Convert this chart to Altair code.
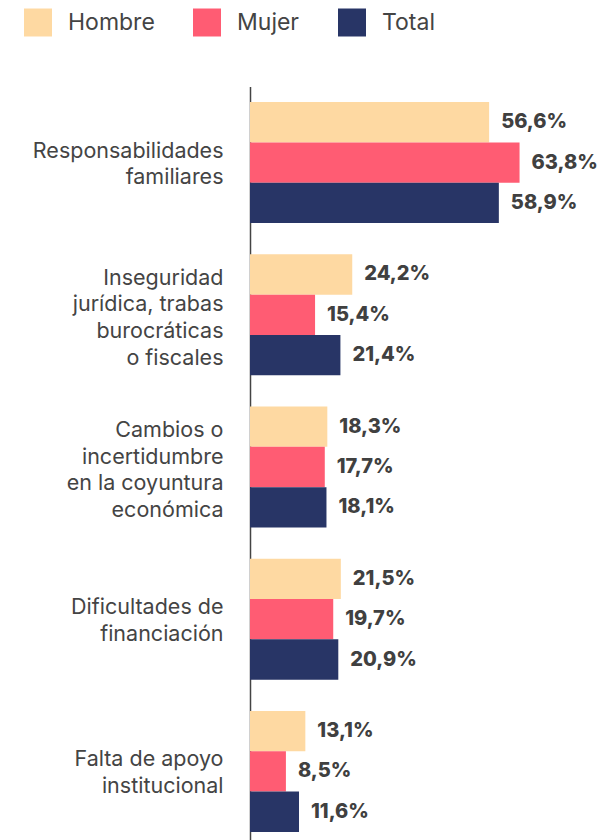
import altair as alt
import pandas as pd

categories = [
    "Responsabilidades|familiares",
    "Inseguridad|jurídica, trabas|burocráticas|o fiscales",
    "Cambios o|incertidumbre|en la coyuntura|económica",
    "Dificultades de|financiación",
    "Falta de apoyo|institucional",
]
series = ["Hombre", "Mujer", "Total"]
hombre = [56.6, 24.2, 18.3, 21.5, 13.1]
mujer = [63.8, 15.4, 17.7, 19.7, 8.5]
total = [58.9, 21.4, 18.1, 20.9, 11.6]
colors = ["#FED9A2", "#FF5C73", "#283566"]

rows = []
for i, c in enumerate(categories):
    for s, vals in zip(series, [hombre, mujer, total]):
        rows.append({"cat": c, "serie": s, "value": vals[i]})
df = pd.DataFrame(rows)

base = alt.Chart(df).transform_calculate(
    label="replace(format(datum.value, '.1f'), '.', ',') + '%'"
).encode(
    y=alt.Y(
        "cat:N",
        sort=categories,
        scale=alt.Scale(paddingInner=0.205, paddingOuter=0.1025),
        axis=alt.Axis(
            title=None,
            labelExpr="split(datum.label, '|')",
            labelFont="Inter",
            labelFontSize=21.5,
            labelColor="#444444",
            labelLineHeight=26.7,
            labelAlign="right",
            labelPadding=27,
            labelLimit=240,
            labelOffset={
                "condition": {"test": "length(split(datum.value, '|')) > 2", "value": -36},
                "value": -11,
            },
            ticks=False,
            domainColor="#444444",
            domainWidth=1.5,
            grid=False,
        ),
    ),
    yOffset=alt.YOffset("serie:N", sort=series, scale=alt.Scale(paddingInner=0, paddingOuter=0)),
    x=alt.X("value:Q", scale=alt.Scale(domain=[0, 80]), axis=None),
)

bars = base.mark_bar().encode(
    color=alt.Color(
        "serie:N",
        sort=series,
        scale=alt.Scale(domain=series, range=colors),
        legend=alt.Legend(
            orient="none",
            legendX=-226,
            legendY=-78,
            direction="horizontal",
            title=None,
            symbolType="square",
            symbolSize=784,
            symbolStrokeWidth=0,
            symbolOpacity=1,
            labelFont="Inter",
            labelFontSize=23,
            labelColor="#444444",
            labelOffset=16,
            columnPadding=38,
            padding=0,
        ),
    )
)

text = base.mark_text(
    align="left", baseline="middle", dx=12, font="Inter", fontSize=20, fontWeight=800, color="#404040"
).encode(text="label:N")

chart = (
    alt.layer(bars, text)
    .properties(
        width=338,
        height=761,
        padding={"left": 242, "top": 78.5, "right": 10, "bottom": 0},
        autosize=alt.AutoSizeParams(type="none"),
    )
    .configure_view(stroke=None)
)

chart.save("out.html", embed_options={"renderer": "svg", "actions": False})
